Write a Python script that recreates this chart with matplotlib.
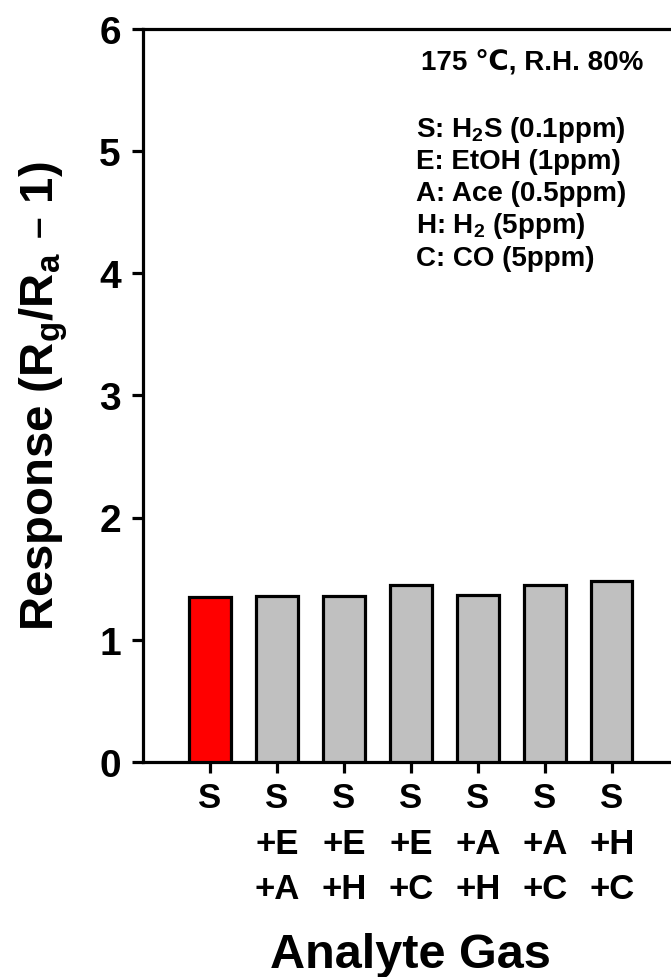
import matplotlib
matplotlib.use("Agg")
import matplotlib.pyplot as plt

plt.rcParams['font.family'] = ['Liberation Sans', 'DejaVu Sans']
plt.rcParams['font.weight'] = 'bold'
plt.rcParams['mathtext.default'] = 'regular'

categories = ["S", "S\n+E\n+A", "S\n+E\n+H", "S\n+E\n+C", "S\n+A\n+H", "S\n+A\n+C", "S\n+H\n+C"]
values = [1.35, 1.36, 1.36, 1.45, 1.37, 1.45, 1.48]
colors = ["#FF0000"] + ["#C0C0C0"] * 6
yticks = [0, 1, 2, 3, 4, 5, 6]
legend_title = "175 \u2103, R.H. 80%"
legend_lines = ["S: H$_2$S (0.1ppm)", "E: EtOH (1ppm)", "A: Ace (0.5ppm)",
                "H: H$_2$ (5ppm)", "C: CO (5ppm)"]

fig = plt.figure(figsize=(6.71, 9.78), dpi=100)
ax = fig.add_axes([143/671, 1-763/978, (678.7-143)/671, (763-29.5)/978])

x = list(range(len(categories)))
ax.bar(x, values, width=0.62, color=colors, edgecolor='black', linewidth=2.3, zorder=3)
ax.set_xlim(-1, 7)
ax.set_ylim(0, 6)
ax.set_yticks(yticks)
ax.set_yticklabels([str(v) for v in yticks], fontsize=28, fontweight='bold')
ax.set_xticks(x)
ax.set_xticklabels(categories, fontsize=25, fontweight='bold', linespacing=1.48, va='top')
for s in ax.spines.values():
    s.set_linewidth(2.3)
ax.tick_params(axis='both', width=2.3, length=8, direction='out')
ax.tick_params(axis='y', pad=8)
ax.tick_params(axis='x', pad=6)

ax.set_ylabel("Response (R$_g$/R$_a$ \u2013 1)", fontsize=34, fontweight='bold', labelpad=21)
ax.set_xlabel("Analyte Gas", fontsize=35, fontweight='bold', labelpad=19)

fig.text(421/671, 1-62/978, legend_title, fontsize=20, fontweight='bold', va='center', ha='left')
ys = [130, 162, 194, 226, 259]
for yy, t in zip(ys, legend_lines):
    fig.text(416/671, 1-yy/978, t, fontsize=20, fontweight='bold', va='center', ha='left')

fig.savefig("out.png", dpi=100)
